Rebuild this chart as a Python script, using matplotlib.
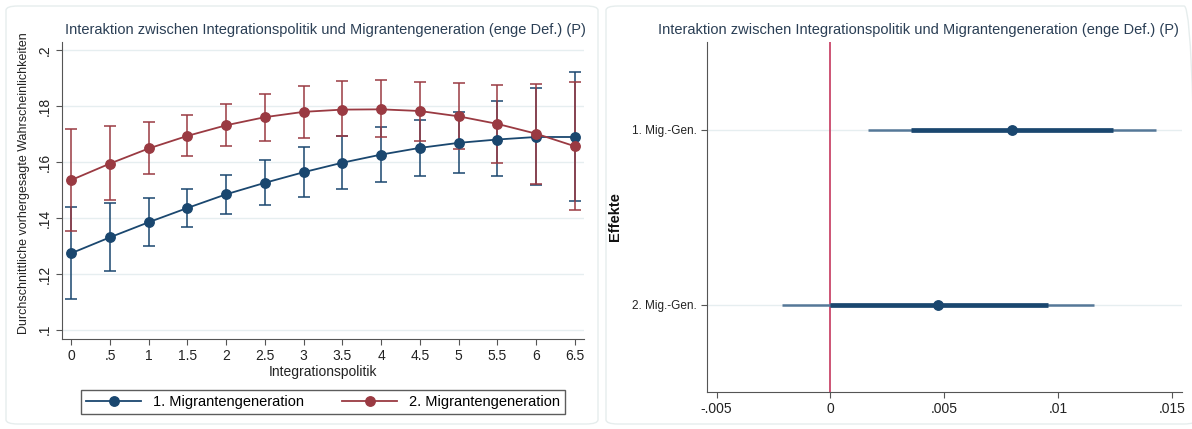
import matplotlib.pyplot as plt
import matplotlib.patches as patches
import numpy as np

plt.rcParams['font.family'] = ['Liberation Sans', 'DejaVu Sans']

# left panel: predicted probabilities by integration policy
policy = [0, 0.5, 1, 1.5, 2, 2.5, 3, 3.5, 4, 4.5, 5, 5.5, 6, 6.5]
gen1_mean = [.1274, .1331, .1385, .1436, .1485, .1526, .1564, .1598, .1627, .1651, .1669, .1681, .1690, .1690]
gen1_lo = [.1111, .1212, .1300, .1368, .1414, .1448, .1476, .1504, .1530, .1551, .1560, .1550, .1517, .1462]
gen1_hi = [.1440, .1455, .1473, .1505, .1555, .1606, .1655, .1693, .1725, .1752, .1779, .1819, .1865, .1923]
gen2_mean = [.1536, .1595, .1649, .1694, .1732, .1761, .1780, .1788, .1789, .1783, .1764, .1737, .1702, .1657]
gen2_lo = [.1355, .1464, .1556, .1621, .1657, .1675, .1687, .1692, .1690, .1677, .1648, .1598, .1523, .1429]
gen2_hi = [.1718, .1729, .1743, .1770, .1807, .1845, .1874, .1889, .1893, .1888, .1882, .1876, .1880, .1888]
xtick_labels = ['0', '.5', '1', '1.5', '2', '2.5', '3', '3.5', '4', '4.5', '5', '5.5', '6', '6.5']
ytick_vals = [.1, .12, .14, .16, .18, .2]
ytick_labels = ['.1', '.12', '.14', '.16', '.18', '.2']

# right panel: effects
effects = ['1. Mig.-Gen.', '2. Mig.-Gen.']
eff_est = [.00798, .00473]
eff_lo95 = [.00165, -.00213]
eff_hi95 = [.01432, .01160]
eff_lo90 = [.00355, -.00003]
eff_hi90 = [.01243, .00955]
eff_ticks = [-.005, 0, .005, .01, .015]
eff_tick_labels = ['-.005', '0', '.005', '.01', '.015']

navy = '#1a476f'
maroon = '#9a3a42'
title_col = '#2b3f55'
axis_col = '#555555'
grid_col = '#e6eef0'
title = 'Interaktion zwischen Integrationspolitik und Migrantengeneration (enge Def.) (P)'

W, H = 1192, 429
fig = plt.figure(figsize=(W / 100, H / 100), dpi=100)

# panel frames
for x0, x1 in [(6, 598), (606, 1196)]:
    fig.add_artist(patches.FancyBboxPatch((x0 / W, 1 - 424 / H), (x1 - x0) / W, 418 / H,
                                          boxstyle='round,pad=0,rounding_size=0.01',
                                          transform=fig.transFigure, fill=False,
                                          edgecolor='#e6eded', lw=1.0))

# ---------- left panel ----------
ax1 = fig.add_axes([62 / W, 1 - 339 / H, (584 - 62) / W, (339 - 42) / H])
for yv in ytick_vals:
    ax1.axhline(yv, color=grid_col, lw=1.0, zorder=0)

for mean, lo, hi, col, lab in [(gen1_mean, gen1_lo, gen1_hi, navy, '1. Migrantengeneration'),
                               (gen2_mean, gen2_lo, gen2_hi, maroon, '2. Migrantengeneration')]:
    mean = np.array(mean)
    err = [mean - np.array(lo), np.array(hi) - mean]
    ax1.errorbar(policy, mean, yerr=err, fmt='none', ecolor=col, elinewidth=1.1,
                 capsize=4.3, capthick=1.1, zorder=2)
    ax1.plot(policy, mean, '-o', color=col, lw=1.3, ms=6.8, label=lab, zorder=3)

ax1.set_xlim(-0.12, 6.62)
ax1.set_ylim(.0967, .203)
ax1.set_xticks(policy)
ax1.set_xticklabels(xtick_labels, fontsize=10)
ax1.set_yticks(ytick_vals)
ax1.set_yticklabels(ytick_labels, fontsize=10, rotation=90, va='center')
for s in ['top', 'right']:
    ax1.spines[s].set_visible(False)
for s in ['left', 'bottom']:
    ax1.spines[s].set_color(axis_col)
ax1.tick_params(colors=axis_col, labelcolor='#222222', length=4, width=0.8)
ax1.set_xlabel('Integrationspolitik', fontsize=10, color='#222222', labelpad=1)
ax1.set_ylabel('Durchschnittliche vorhergesagte Wahrscheinlichkeiten', fontsize=9, color='#222222')
ax1.yaxis.set_label_coords(-0.062, 0.525)
fig.text(325 / W, 1 - 30 / H, title, ha='center', va='center', fontsize=10.5, color=title_col)

handles, labels = ax1.get_legend_handles_labels()
fig.legend(handles, labels, loc='center', bbox_to_anchor=(323 / W, 1 - 402 / H), ncol=2,
           fontsize=10.5, frameon=True, fancybox=False, edgecolor='#333333', handlelength=3.8,
           columnspacing=2.6, borderpad=0.35, handletextpad=0.8)

# ---------- right panel ----------
ax2 = fig.add_axes([707 / W, 1 - 392 / H, (1182 - 707) / W, (392 - 42) / H])
ypos = np.arange(1, len(effects) + 1)
for yy in ypos:
    ax2.axhline(yy, color=grid_col, lw=1.0, zorder=0)
ax2.axvline(0, color='#c9466a', lw=1.3, zorder=1)
ax2.hlines(ypos, eff_lo95, eff_hi95, color='#557898', lw=1.8, zorder=2)
ax2.hlines(ypos, eff_lo90, eff_hi90, color=navy, lw=3.4, zorder=3)
ax2.plot(eff_est, ypos, 'o', color=navy, ms=6.8, zorder=4)

ax2.set_ylim(2.5, 0.5)
ax2.set_xlim(-.00542, .01545)
ax2.set_yticks(ypos)
ax2.set_yticklabels(effects, fontsize=8.5)
ax2.set_xticks(eff_ticks)
ax2.set_xticklabels(eff_tick_labels, fontsize=10)
for s in ['top', 'right']:
    ax2.spines[s].set_visible(False)
for s in ['left', 'bottom']:
    ax2.spines[s].set_color(axis_col)
ax2.tick_params(colors=axis_col, labelcolor='#222222', length=4, width=0.8)
ax2.set_ylabel('Effekte', fontsize=10.5, fontweight='bold', color='#111111')
ax2.yaxis.set_label_coords(-0.18, 0.5)
fig.text(918 / W, 1 - 30 / H, title, ha='center', va='center', fontsize=10.5, color=title_col)

fig.savefig('out.png', dpi=100)
